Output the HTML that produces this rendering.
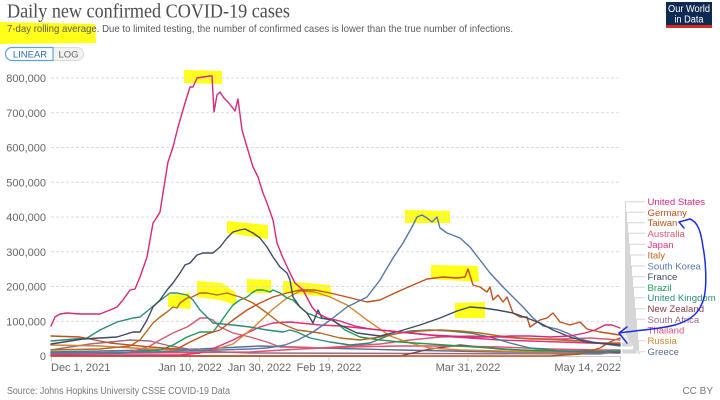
<!DOCTYPE html>
<html><head><meta charset="utf-8"><style>
html,body{margin:0;padding:0;background:#fff;}
svg{display:block;}
text{font-family:"Liberation Sans",sans-serif;}
</style></head><body>
<svg width="720" height="400" viewBox="0 0 720 400" xmlns="http://www.w3.org/2000/svg">
<rect width="720" height="400" fill="#fff"/>
<!-- yellow highlights -->
<g fill="#ffff1a">
<polygon points="0,22 95,24 96,43 0,44"/>
<polygon points="184,70 222,71 222,84 184,83"/>
<polygon points="227,221 268,225 268,239 227,233"/>
<polygon points="168,295 190,293 191,309 168,307"/>
<polygon points="197,281 222,283 236,293 236,305 220,300 197,297"/>
<polygon points="247,279 271,280 271,293 247,293"/>
<polygon points="283,281 330,285 332,297 283,293"/>
<polygon points="405,210 450,211 450,223 405,223"/>
<polygon points="431,265 478,266 479,282 431,279"/>
<polygon points="455,303 485,302 485,318 455,318"/>
</g>
<!-- title -->
<text x="7" y="17.5" font-size="20" fill="#4d4d4d" textLength="283" lengthAdjust="spacingAndGlyphs" style="font-family:'Liberation Serif',serif">Daily new confirmed COVID-19 cases</text>
<text x="7" y="32" font-size="10.5" fill="#5b5b5b" textLength="506" lengthAdjust="spacingAndGlyphs">7-day rolling average. Due to limited testing, the number of confirmed cases is lower than the true number of infections.</text>
<!-- logo -->
<rect x="666" y="2" width="46" height="26" fill="#0f2a52"/>
<rect x="666" y="25" width="46" height="3" fill="#d12b22"/>
<text x="689" y="12" font-size="10" fill="#fff" text-anchor="middle" textLength="42" lengthAdjust="spacingAndGlyphs">Our World</text>
<text x="689" y="22.5" font-size="10" fill="#fff" text-anchor="middle" textLength="29" lengthAdjust="spacingAndGlyphs">in Data</text>
<!-- buttons -->
<path d="M53,47.5 H77 A6.5,6.5 0 0 1 83.5,54 A6.5,6.5 0 0 1 77,60.5 H53 Z" fill="#f2f2f2" stroke="#dcdcdc" stroke-width="1"/>
<path d="M53,47.5 H12 A6.5,6.5 0 0 0 5.5,54 A6.5,6.5 0 0 0 12,60.5 H53 Z" fill="#fff" stroke="#5fa2e4" stroke-width="1.2"/>
<text x="30" y="57.5" font-size="9.5" fill="#2c6cb5" text-anchor="middle">LINEAR</text>
<text x="68.5" y="57.5" font-size="9.5" fill="#666" text-anchor="middle">LOG</text>
<!-- grid -->
<g stroke="#dcdcdc" stroke-width="1" stroke-dasharray="3,2">
<line x1="51" y1="78" x2="621" y2="78"/>
<line x1="51" y1="112.75" x2="621" y2="112.75"/>
<line x1="51" y1="147.5" x2="621" y2="147.5"/>
<line x1="51" y1="182.25" x2="621" y2="182.25"/>
<line x1="51" y1="217" x2="621" y2="217"/>
<line x1="51" y1="251.75" x2="621" y2="251.75"/>
<line x1="51" y1="286.5" x2="621" y2="286.5"/>
<line x1="51" y1="321.25" x2="621" y2="321.25"/>
</g>
<line x1="51" y1="356.5" x2="621" y2="356.5" stroke="#ccc" stroke-width="1"/>
<g stroke="#ccc" stroke-width="1">
<line x1="51.5" y1="356" x2="51.5" y2="361"/>
<line x1="190" y1="356" x2="190" y2="361"/>
<line x1="259.5" y1="356" x2="259.5" y2="361"/>
<line x1="329" y1="356" x2="329" y2="361"/>
<line x1="468" y1="356" x2="468" y2="361"/>
<line x1="620.5" y1="356" x2="620.5" y2="361"/>
</g>
<g font-size="11" fill="#666" text-anchor="end">
<text x="46" y="82">800,000</text>
<text x="46" y="116.75">700,000</text>
<text x="46" y="151.5">600,000</text>
<text x="46" y="186.25">500,000</text>
<text x="46" y="221">400,000</text>
<text x="46" y="255.75">300,000</text>
<text x="46" y="290.5">200,000</text>
<text x="46" y="325.25">100,000</text>
<text x="46" y="360">0</text>
</g>
<g font-size="11" fill="#666">
<text x="51" y="371">Dec 1, 2021</text>
<text x="190" y="371" text-anchor="middle">Jan 10, 2022</text>
<text x="259.5" y="371" text-anchor="middle">Jan 30, 2022</text>
<text x="329" y="371" text-anchor="middle">Feb 19, 2022</text>
<text x="468" y="371" text-anchor="middle">Mar 31, 2022</text>
<text x="621" y="371" text-anchor="end">May 14, 2022</text>
</g>
<!-- legend connectors -->
<g fill="none" stroke="#d6d6d6" stroke-width="1">
<polyline points="645,201.7 625.5,201.7 625.5,328 622,328"/>
<polyline points="645,212.3 626.5,212.3 626.5,335 622,335"/>
<polyline points="645,222.7 627.5,222.7 627.5,338 622,338"/>
<polyline points="645,233.3 628.5,233.3 628.5,340 622,340"/>
<polyline points="645,244.3 629.5,244.3 629.5,344 622,344"/>
<polyline points="645,255 630.5,255 630.5,343 622,343"/>
<polyline points="645,266 631.5,266 631.5,346 622,346"/>
<polyline points="645,276.7 632.5,276.7 632.5,345 622,345"/>
<polyline points="645,287.3 633.5,287.3 633.5,351 622,351"/>
<polyline points="645,297.7 634.5,297.7 634.5,351 622,351"/>
<polyline points="645,308.7 635.5,308.7 635.5,352 622,352"/>
<polyline points="645,319.3 636.5,319.3 636.5,351 622,351"/>
<polyline points="645,330 637.5,330 637.5,350 622,350"/>
<polyline points="645,340.7 638.5,340.7 638.5,351 622,351"/>
<polyline points="645,351.7 639.5,351.7 639.5,353 622,353"/>
</g>
<!-- series -->
<g fill="none" stroke-width="1.4" stroke-linejoin="round" stroke-linecap="round">
<polyline stroke="#5b6e96" points="51,352 200,349 260,346 320,348 400,350 500,352 620,353"/>
<polyline stroke="#9a6a86" points="51,350 90,344 130,340 150,341 170,346 200,351 250,353 600,354 620,351"/>
<polyline stroke="#8a3a4a" points="51,356 400,356 430,349 460,345 500,349 540,351 580,351 620,352"/>
<polyline stroke="#e34e6c" points="51,354 250,352 300,349 350,347 400,346 450,346 500,347 550,349 600,350 620,350"/>
<polyline stroke="#b8541e" points="51,356 550,356 580,354 600,348 610,342 620,338"/>
<polyline stroke="#d65a6c" points="51,354 130,352 150,346 160,340 173,333 187,327 193,323 200,318 207,318 213,320 220,327 233,333 250,337 267,342 280,347 297,347 320,348 350,346 380,344 410,340 440,337 470,336 500,337 530,339 560,339 590,338 620,340"/>
<polyline stroke="#e0307a" points="51,355 180,355 200,353 217,347 233,340 247,333 260,327 273,323 290,322 300,323 320,325 340,326 360,328 380,330 400,332 420,334 440,336 470,338 500,340 530,341 560,342 590,343 620,344"/>
<polyline stroke="#d4842f" points="51,345 100,346 150,349 190,351 210,351 233,344 253,328 273,309 287,298 300,291 315,292 330,297 347,305 367,320 390,336 410,343 430,348 460,350 500,351 540,352 580,352 620,351"/>
<polyline stroke="#1f9a57" points="51,352 120,353 160,350 173,345 187,337 200,332 213,332 220,323 227,313 233,305 240,300 247,297 253,292 257,290 263,290 270,292 273,290 280,293 287,298 293,300 300,307 307,313 320,318 333,320 345,330 360,337 380,340 400,342 430,344 460,346 490,348 520,350 560,351 600,352 620,351"/>
<polyline stroke="#2b8a7d" points="51,341 87,338 100,330 117,322 133,318 140,317 157,303 170,293 177,293 187,295 193,300 200,310 213,323 233,325 250,327 267,330 283,332 290,330 297,332 310,338 330,342 350,345 370,343 390,335 410,331 430,330 450,331 470,333 490,337 510,343 530,348 560,351 590,352 620,351"/>
<polyline stroke="#b5651d" points="51,350 100,349 130,346 140,340 153,323 160,317 167,312 173,307 177,308 180,303 187,298 192,297 200,293 207,293 217,295 227,293 233,295 240,297 253,303 267,313 280,323 297,330 320,333 340,338 360,340 380,337 400,333 420,331 440,330 460,331 480,333 500,336 520,338 540,339 560,340 580,341 600,343 620,343"/>
<polyline stroke="#c0501c" points="51,336 80,337 110,343 150,347 177,349 190,342 207,334 220,330 233,320 247,310 260,303 273,297 287,293 300,290 315,290 330,293 347,297 367,302 380,300 397,292 413,285 427,279 443,277 457,278 465,277 468,269 473,285 480,287 487,292 490,287 493,300 498,295 503,302 507,297 513,313 520,317 527,317 530,327 540,320 547,318 553,313 560,322 570,325 580,322 587,329 600,332 620,335"/>
<polyline stroke="#5577aa" points="51,353 150,352 220,350 250,349 267,348 285,345 298,340 313,332 329,321 347,307 367,297 380,280 393,258 403,243 412,227 417,217 422,215 427,218 432,222 437,217 440,228 447,233 460,238 470,247 480,260 490,273 503,287 513,297 523,307 533,318 543,326 557,329 567,333 580,339 597,343 620,346"/>
<polyline stroke="#3f4a63" points="51,344 83,339 117,337 133,332 140,332 147,320 153,307 160,300 167,290 173,283 180,273 185,265 190,263 197,255 203,253 208,253 213,253 220,247 227,238 233,232 240,230 245,229 253,233 260,238 267,247 273,257 280,267 287,273 290,280 293,297 300,307 307,313 313,323 318,310 322,318 332,320 340,325 357,333 380,336 400,331 420,325 440,318 457,311 470,307 483,308 497,310 513,313 527,318 540,323 553,330 570,337 587,342 620,345"/>
<polyline stroke="#d6287e" points="51,326 55,317 60,314 67,313 80,314 90,314 100,314 110,310 117,307 123,300 130,290 135,289 140,277 147,257 153,223 157,217 160,212 163,193 168,162 173,147 178,127 185,103 190,87 193,87 197,78 203,77 210,76 212,76 214,112 217,95 220,92 224,98 228,102 235,111 238,99 242,130 247,147 253,167 258,177 263,193 267,203 273,220 277,243 283,258 290,273 295,283 303,290 312,307 317,313 327,318 340,321 355,326 370,329 390,331 410,333 430,335 450,336 470,337 490,337 510,336 530,336 550,337 570,336 585,333 595,330 605,325 612,325 620,328"/>
</g>
<!-- legend labels -->
<g font-size="9.6">
<text x="647.5" y="205.2" fill="#d6287e">United States</text>
<text x="647.5" y="215.8" fill="#c0501c">Germany</text>
<text x="647.5" y="226.2" fill="#b8541e">Taiwan</text>
<text x="647.5" y="236.8" fill="#d65a6c">Australia</text>
<text x="647.5" y="247.8" fill="#e0307a">Japan</text>
<text x="647.5" y="258.5" fill="#b5651d">Italy</text>
<text x="647.5" y="269.5" fill="#5577aa">South Korea</text>
<text x="647.5" y="280.2" fill="#3f4a63">France</text>
<text x="647.5" y="290.8" fill="#1f9a57">Brazil</text>
<text x="647.5" y="301.2" fill="#2b8a7d">United Kingdom</text>
<text x="647.5" y="312.2" fill="#8a3a4a">New Zealand</text>
<text x="647.5" y="322.8" fill="#9a6a86">South Africa</text>
<text x="647.5" y="333.5" fill="#e34e6c">Thailand</text>
<text x="647.5" y="344.2" fill="#d4842f">Russia</text>
<text x="647.5" y="355.2" fill="#5b6e96">Greece</text>
</g>
<!-- blue hand-drawn arrow -->
<g fill="none" stroke="#1a2ee8" stroke-width="1.5" stroke-linecap="round" stroke-linejoin="round">
<path d="M690,219 C698,222 701,232 703,247 C706,262 707,285 704,298 C700,312 692,320 675,325 C660,329 640,330 619,333"/>
<path d="M690,219 L679,222 L684,228"/>
<path d="M627,327 L619,333 L627,343"/>
</g>
<!-- footer -->
<text x="7" y="394" font-size="10" fill="#777" textLength="223" lengthAdjust="spacingAndGlyphs">Source: Johns Hopkins University CSSE COVID-19 Data</text>
<text x="713" y="394" font-size="10" fill="#777" text-anchor="end">CC BY</text>
</svg>
</body></html>
